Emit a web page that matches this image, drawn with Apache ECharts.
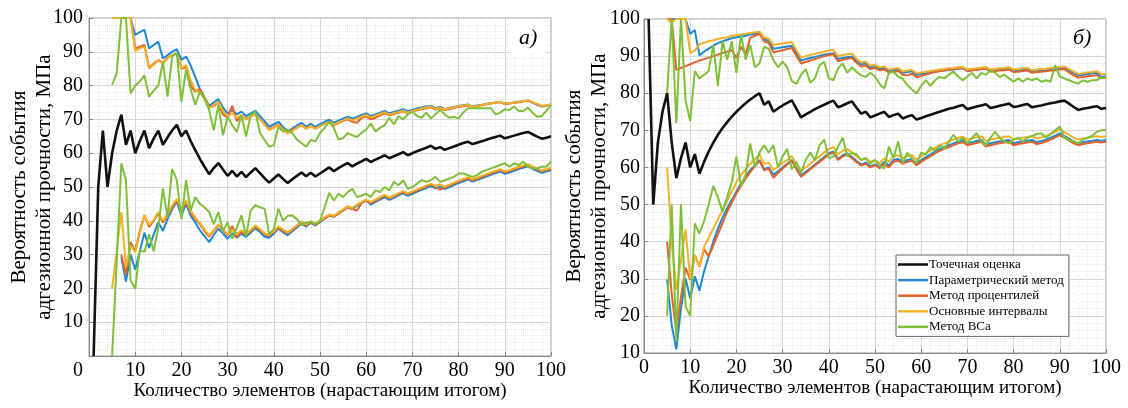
<!DOCTYPE html>
<html><head><meta charset="utf-8">
<script src="https://cdn.jsdelivr.net/npm/echarts@6/dist/echarts.min.js"></script>
<style>html,body{margin:0;padding:0;background:#fff}#c{width:1128px;height:408px}</style>
</head><body><div id="c"></div>
<script>
// x = 1..100 (number of elements); null = no value
const xTicks = [0,10,20,30,40,50,60,70,80,90,100];
const names = ['Точечная оценка','Параметрический метод','Метод процентилей','Основные интервалы','Метод BCa'];

// ---------- panel a) ----------
const A_point = [0,50,66.7,50,60,66.7,71.4,62.5,66.7,60,
63.6,66.7,61.5,64.3,66.7,62.5,64.7,66.7,68.4,65,
66.7,63.6,60.9,58.3,56,53.8,55.6,57.1,55.2,53.3,
54.8,53.1,54.5,52.9,54.3,55.6,54.1,52.6,51.3,52.5,
53.7,52.4,51.2,52.3,53.3,54.3,53.2,54.2,53.1,54,
54.9,55.8,54.7,55.6,56.4,57.1,56.1,56.9,57.6,58.3,
57.4,58.1,58.7,59.4,58.5,59.1,59.7,60.3,59.4,60,
60.6,61.1,61.6,62.2,61.3,61.8,61,61.5,62,62.5,
63,63.4,62.7,63.1,63.5,64,64.4,64.8,65.2,64.4,
64.8,65.2,65.6,66,66.3,65.6,64.9,64.3,64.6,65];

const A_paramUp = [null,null,null,null,100,100,100,100,100,95,
95.8,96.5,91,92,93,88,89,90,90.8,87.6,
88.6,86,82.5,79,76.5,74,75,76,73.5,71.8,
72.8,71.5,72.3,71,71.8,72.5,71,69.5,67.8,68.6,
69.3,67.8,66.4,67.3,68.2,69,67.9,68.7,67.8,68.6,
69.3,69.9,69,69.6,70.2,70.8,70.2,70.7,71.3,71.8,
71,71.5,72,72.5,71.8,72.2,72.6,73,72.4,72.8,
73.2,73.5,73.8,74,73.3,73.7,73.1,73.4,73.7,74,
74.2,74.4,73.8,74.1,74.3,74.6,74.8,75,75.2,74.6,
74.8,75,75.2,75.4,75.6,75,74.4,73.8,74.1,74.4];

const A_percUp = [null,null,null,null,100,100,100,100,100,91,
91.5,92,85.3,86.5,87.5,86.8,88.2,89,89.5,85,
85.5,80,78.2,79,76.5,73.5,74,75,71.5,70.5,
74,69.5,71,70.2,70.8,71.5,70,68.6,67,67.8,
68.5,67.2,66,66.8,67.5,68.3,67.3,68,67.3,68,
68.6,69.1,68.3,68.9,69.5,70,69.3,69,70.4,70.9,
70,70.5,71.2,71.8,71.2,71.6,72,72.4,71.8,72.3,
72.7,73,73.3,73.6,72.9,73.3,72.8,73.1,73.4,73.7,
73.9,74.1,73.6,73.9,74.2,74.5,74.7,74.9,75.1,74.5,
74.7,74.9,75.1,75.3,75.5,75,74.5,73.9,74.1,74.4];

const A_basicUp = [null,null,null,null,100,100,100,100,100,90.1,
91,91.6,85,86.2,87.4,86.5,88,89,89.6,85.1,
86.1,81.7,78.7,78,76.2,73.3,74.3,75.2,72.5,70.8,
71.8,70.5,71.3,70,70.8,71.5,70,68.5,66.8,67.6,
68.4,67,65.8,66.6,67.5,68.3,67.2,68,67.2,68,
68.7,69.3,68.5,69.1,69.7,70.3,69.7,70.2,70.8,71.3,
70.6,71.1,71.6,72.1,71.4,71.8,72.2,72.6,72,72.5,
72.9,73.2,73.5,73.8,73.1,73.5,73,73.3,73.6,73.9,
74.1,74.3,73.7,74,74.3,74.6,74.8,75,75.2,74.6,
74.8,75,75.2,75.4,75.6,75.1,74.6,74,74.2,74.5];

const A_bcaUp = [null,null,null,null,80.2,83.7,100,100,77.7,80,
81.2,83,76.7,78.5,80,87,76.7,88.6,89.6,75.2,
84.7,79,74.3,78.2,76,72.8,66.8,74.3,65.3,70.8,
68.3,66.3,71.3,64.9,71.3,72.3,66,63.9,61.9,62.4,
67.8,66.4,67,66,64,63,61.9,63.9,63.5,66,
67.5,69.3,67.5,64,64.5,66,65.3,64.8,66,67,
68.8,66.4,67.5,68.3,70.5,68.5,71,70,71.5,72.3,
71,70.5,72,70.3,71.5,72.8,71.5,70.5,70.8,70.3,
72,73.3,73.3,73.3,73.3,73.3,73.3,71.5,72,73,
72.8,73.8,72.5,72.5,73.5,72,70.8,71,72.5,74.3];

const A_paramLo = [null,null,null,null,null,null,29.3,22,30,25.5,
31,36.5,32,36,39.6,37,40.5,43.5,45.6,41.6,
45,41.5,39.5,37.2,35.5,33.7,35.8,37.7,36.2,34.7,
36.3,35,36.2,35.2,36.5,37.8,36.7,35.3,35,36.2,
37.7,36.6,35.7,36.9,38,39.2,38.3,39.4,38.6,39.6,
40.6,41.6,41.2,42.2,43.1,44,43.5,44.5,45.3,46,
44.8,45.6,46.3,47,46.2,46.8,47.5,48.1,47.4,48,
48.6,49.2,49.7,50.3,49.6,50.1,49.4,50,50.6,51.2,
51.7,52.2,51.6,52.1,52.6,53.1,53.6,54.1,54.6,53.9,
54.3,54.8,55.3,55.7,56.1,55.4,54.8,54.2,54.6,55];

const A_percLo = [null,null,null,null,null,null,30,24,33.7,31,
37,41.6,38.2,40,42,39.5,41.5,44,46,43,
45.5,42.5,40.5,39,37,35.3,37,38.8,37.2,35.7,
38.5,35,36.8,35.8,37,38.3,37.3,36,35.5,36.7,
38,37,36.2,37.3,38.4,39.5,38.6,39.6,38.8,39.8,
40.7,41.6,41.2,42.2,43.1,44,43.5,43,45.3,46,
45.2,46,46.7,47.4,46.6,47.2,47.9,48.5,47.8,48.4,
49,49.6,50.1,50.7,50,49.2,49.8,50.4,51,51.6,
52.1,52.6,52,52.5,53,53.5,54,54.5,55,54.3,
54.7,55.2,55.7,56.1,56.5,55.8,55.2,54.6,55,55.4];

const A_basicLo = [null,null,null,null,20,31,42.6,26.3,32.7,30.7,
36.5,41.6,38.7,40.3,42.5,40,42,44.5,46.5,43.5,
46,43,41,39.3,37.5,35.7,37.2,39,37.5,36,
37.3,36.2,37.2,36.2,37.3,38.6,37.6,36.3,35.8,37,
38.4,37.4,36.5,37.6,38.7,39.8,38.9,39.9,39.1,40.1,
41,41.9,41.5,42.5,43.4,44.3,43.8,44.8,45.6,46.3,
45.5,46.3,47,47.7,46.9,47.5,48.2,48.8,48.1,48.7,
49.3,49.9,50.4,51,50.3,50.8,50.1,50.7,51.3,51.9,
52.4,52.9,52.3,52.8,53.3,53.8,54.3,54.8,55.3,54.6,
55,55.5,56,56.4,56.8,56.1,55.5,54.9,55.3,55.7];

const A_bcaLo = [null,null,null,null,0,28,57,52,22.3,19.9,
31.3,30.8,36,31,38,49.5,41,55.4,52,40.5,
52,43,47,45,44,42.6,39,42.6,37,39.6,
34.7,38,41.6,35.5,43,44.6,44,43.6,36,37.6,
43.6,40,41.5,41.6,40.5,38.7,39.5,39.6,39,40,
44,48.3,46,48,47,48.5,49.5,47,47.5,48,
47,49,48.5,50,49,51.5,50.5,52,49.5,50,
51,52,51.5,52,53,51.5,52,52.5,53,54,
54,53.5,53,53.5,54.5,55,55.5,56,56.5,57,
56,57,56.5,57.5,56,55.5,55.5,56,56,57.5];

// ---------- panel б) ----------
const B_point = [100,50,66.7,75,80,66.7,57.1,62.5,66.7,60,
63.6,58.3,61.5,64.3,66.7,68.8,70.6,72.2,73.7,75,
76.2,77.3,78.3,79.2,80,76.9,77.8,75,75.9,76.7,
77.4,78.1,75.8,73.5,74.3,75,75.7,76.3,76.9,77.5,
78,76.2,76.7,77.3,77.8,76.1,74.5,75,73.5,74,
74.5,75,73.6,74.1,74.5,73.2,73.7,74.1,72.9,73.3,
73.8,74.2,74.6,75,75.4,75.8,76.1,76.5,76.8,75.7,
76.1,76.4,76.7,77,76,76.3,76.6,76.9,77.2,76.3,
76.5,76.8,77.1,76.2,76.5,76.7,77,77.3,77.5,77.8,
78,77.2,76.3,75.5,75.8,76,76.3,76.5,75.8,76];

const B_paramUp = [null,null,null,null,100,100,100,100,100,96,
97,90.2,91.2,92,92.8,93.5,94,94.4,94.8,95.1,
95.3,95.5,95.8,96,96.4,94.5,94.2,92,92.2,92.4,
92.6,92.8,90.8,88.8,89.2,89.5,89.8,90.1,90.4,90.6,
90.8,89.2,89.5,89.7,89.9,88.7,87.8,88,87,87.2,
86.6,86.8,86,86.2,86.4,85.5,85.7,85.9,85,85.2,
85.4,85.6,85.8,86,86.1,86.3,86.4,86.6,86.7,86,
86.2,86.3,86.5,86.6,86,86.2,86.3,86.4,86.6,86,
86.1,86.3,86.4,85.8,86,86.1,86.2,86.4,86.5,86.7,
86.8,86.1,85.4,84.8,85,85.2,85.3,85.5,84.4,84.6];

const B_percUp = [null,null,null,null,100,100,86.3,86.8,87.3,87.8,
88.3,88.8,89.2,89.6,90,90.4,90.8,91.2,91.6,89.5,
92.5,90.5,95,95.5,96,94,93.5,91,91.3,91.6,
91.9,92.2,90,88,88.4,88.8,89.2,89.6,90,90.3,
90.5,88.6,89,89.3,89.5,88.2,87.2,87.5,86.5,86.8,
86.2,86.4,85.6,85.8,86,85,84.8,85.3,84.3,84.6,
85,85.4,85.7,86,86.2,86.4,86.5,86.7,86.8,86,
86.2,86.3,86.5,86.6,85.8,86,86.1,86.2,86.4,85.7,
85.8,86,86.1,85.5,85.7,85.8,85.9,86.1,86.2,86.4,
86.5,85.6,84.8,84.2,84.4,84.6,84.7,84.9,84,84.2];

const B_basicUp = [null,null,null,null,100,99,100,100,100,90.8,
91.5,93.2,93.6,94,94.3,94.6,94.9,95.1,95.4,95.6,
95.8,96,96.2,96.4,96.6,95,94.7,93,93.2,93.4,
93.6,93.8,91.6,89.6,90,90.3,90.6,90.9,91.2,91.5,
91.7,90,90.3,90.5,90.7,89.3,88.3,88.5,87.4,87.6,
87,87.2,86.4,86.6,86.8,85.9,86.1,86.3,85.4,85.6,
85.8,86,86.2,86.4,86.5,86.7,86.8,87,87.1,86.4,
86.6,86.7,86.9,87,86.4,86.6,86.7,86.8,87,86.4,
86.5,86.7,86.8,86.2,86.4,86.5,86.6,86.8,86.9,87.1,
87.2,86.5,85.8,85.2,85.4,85.6,85.7,85.9,85.2,85.2];

const B_bcaUp = [null,null,null,null,80,100,71.9,100,78,72.5,
86,84,85,86,93,82,94,89,94,85.5,
95.9,89,93,87,88,92.5,92,89,87,88.5,
87,83.3,82.5,85,86.5,82.8,84,87.5,88.5,84,
83.5,86.7,88,85.5,87,85.8,84.8,84.4,85.5,84.5,
82.5,81.3,85.5,85.8,84.5,83.9,82.2,81,79.9,82,
83.5,82,83.5,84.4,84,85,85.8,84.5,83.5,84.5,
85.5,84,85.5,85,86.2,85.5,84.4,85,84,83.1,
84,83.1,84,83.5,84,83.1,83.5,83.1,87.6,84.5,
84,83.5,83,82.6,83.5,83.1,83.5,83.5,84.2,84.2];

const B_paramLo = [null,null,null,null,29.8,17.5,11,22,30.1,24.7,
30.7,26.8,32,36,40,43.5,46.5,49,51.2,53.5,
55.5,57.5,59.3,60.5,62,59.5,60,58,59,60,
61,62,59.8,57.8,58.8,59.8,60.8,61.8,62.8,63.8,
64.3,62.3,63.3,63.8,62.8,61.8,60.8,61.3,60.3,60.8,
60.2,61.5,60.5,62,62.3,61.5,62,62.3,61.1,62,
62.8,63.5,64.3,65,65.5,66,66.5,67,67.3,66.5,
66.8,67.1,67.4,66.1,66.5,66.8,67,67.2,67.4,66.5,
66.8,67,67.2,67.4,66.8,67.1,67.5,68,68.6,69.2,
68.5,67.8,67,66.5,66.8,67,67.2,67.4,67.2,67.4];

const B_percLo = [null,null,null,null,40,26,15.5,25,33,29.7,
36.4,33.3,38,36,39,42,45,48,50.5,53,
55,57,58.8,60.3,61.8,59.2,59.7,57.2,58.5,59.7,
60.8,61.8,59.5,57.5,58.5,59.5,60.5,61.5,62.5,63.5,
64,62,63,63.5,62.5,61.5,60.5,61,60,60.6,
59.8,61,60,61.5,61.8,61,61.5,61.8,60.6,61.5,
62.3,63,63.8,64.5,65,65.5,66,66.5,66.8,66,
66.3,66.6,66.9,65.6,66,66.3,66.5,66.7,66.9,66,
66.3,66.5,66.7,66.9,66.3,66.6,67,67.5,68.1,68.7,
68,67.3,66.5,66,66.3,66.5,66.7,66.9,66.7,66.9];

const B_basicLo = [null,null,null,null,60,40,27,35,43.3,30,
36.4,33.3,38.6,41,43.5,46,48.5,51,53.5,56,
58,59.5,61,62.3,63.5,61,61.3,59.3,60.2,61.2,
62,63,61,59.2,60,61,62,63,64,65,
65.5,63.5,64.5,65,64,63,62,62.5,61.5,62,
61.2,62.5,61.5,63,63.3,62.5,63,63.3,62.1,63,
63.8,64.5,65.3,66,66.5,67,67.5,68,68.3,67.5,
67.8,68.1,68.4,67.1,67.5,67.8,68,68.2,68.4,67.5,
67.8,68,68.2,68.4,67.8,68.1,68.5,69,69.6,70.2,
69.5,68.8,68,67.5,67.8,68,68.2,68.4,68.2,68.4];

const B_bcaLo = [null,null,null,null,20,50,13,50,22.5,20,
44.9,42.2,45.5,50,55,52,48,52,56,63,
55,58,66.5,60,64,66,64,66,60,63,
65,59.5,61.5,58.5,62,64,62,66,67.5,62.5,
63,65.6,68,63,64,63.5,62,62.5,61,62,
60.5,59.7,65.6,62.5,67,61.1,64,62.5,61.1,64,
63.5,65.5,64.5,66,65,67,68.8,67,68,66.5,
68,69.2,67,66,68,69.6,68,67,66.5,67.5,
68,67,68,68.5,69,69.2,68,69,70,71,
68,67.5,67,66.5,67.5,68,68.5,69.6,70,70.1];

// ---------- build ----------
const FONT = 'Liberation Serif';
const COLORS = ['#111111','#1e88d6','#e4622a','#f2b227','#7fc03a'];
function pts(arr){ const out=[]; arr.forEach((v,i)=>{ if(v!==null) out.push([i+1,v]); }); return out; }
function line(name, arr, gi, colorIdx, w){
  return {type:'line', name, xAxisIndex:gi, yAxisIndex:gi, data:pts(arr), symbol:'none',
    showSymbol:false, lineStyle:{color:COLORS[colorIdx], width:w}, itemStyle:{color:COLORS[colorIdx]},
    emphasis:{disabled:true}, animation:false};
}
function panelSeries(gi, P){
  return [
    line(names[1], P.paramUp, gi, 1, 2), line(names[1], P.paramLo, gi, 1, 2),
    line(names[2], P.percUp, gi, 2, 2), line(names[2], P.percLo, gi, 2, 2),
    line(names[3], P.basicUp, gi, 3, 2), line(names[3], P.basicLo, gi, 3, 2),
    line(names[4], P.bcaUp, gi, 4, 2), line(names[4], P.bcaLo, gi, 4, 2),
    line(names[0], P.point, gi, 0, 2.6)
  ];
}
const series = [].concat(
  panelSeries(0, {point:A_point, paramUp:A_paramUp, paramLo:A_paramLo, percUp:A_percUp, percLo:A_percLo, basicUp:A_basicUp, basicLo:A_basicLo, bcaUp:A_bcaUp, bcaLo:A_bcaLo}),
  panelSeries(1, {point:B_point, paramUp:B_paramUp, paramLo:B_paramLo, percUp:B_percUp, percLo:B_percLo, basicUp:B_basicUp, basicLo:B_basicLo, bcaUp:B_bcaUp, bcaLo:B_bcaLo})
);

const xName = 'Количество элементов (нарастающим итогом)';
const yName = 'Вероятность события\nадгезионной прочности, МПа';
function xAxis(gi){
  return {type:'value', gridIndex:gi, min:0, max:100, interval:10,
    axisLine:{show:true, lineStyle:{color:'#888', width:1}},
    axisTick:{show:true, inside:true, length:4, lineStyle:{color:'#888'}},
    minorTick:{show:true, splitNumber:5, length:0},
    axisLabel:{fontFamily:FONT, fontSize:20, color:'#000', margin:5,
      formatter: v => (gi===0 && v===0) ? '{z|0}' : String(v),
      rich:{z:{fontFamily:FONT, fontSize:20, color:'#000', padding:[0,22,0,0]}}},
    splitLine:{show:true, lineStyle:{color:'#d6d6d6', width:1}},
    minorSplitLine:{show:true, lineStyle:{color:'#e8e8e8', width:1, type:'dotted'}},
    name:xName, nameLocation:'middle', nameGap:26, nameMoveOverlap:false,
    nameTextStyle:{fontFamily:FONT, fontSize:19, color:'#000'}};
}
function yAxis(gi, min){
  return {type:'value', gridIndex:gi, min:min, max:100, interval:10,
    axisLine:{show:true, lineStyle:{color:'#888', width:1}},
    axisTick:{show:true, inside:true, length:4, lineStyle:{color:'#888'}},
    minorTick:{show:true, splitNumber:5, length:0},
    axisLabel:{fontFamily:FONT, fontSize:20, color:'#000', margin: gi===0 ? 6 : 4,
      formatter: v => (gi===0 && v===0) ? '' : String(v)},
    splitLine:{show:true, lineStyle:{color:'#d6d6d6', width:1}},
    minorSplitLine:{show:true, lineStyle:{color:'#e8e8e8', width:1, type:'dotted'}},
    name:yName, nameLocation:'middle', nameRotate:90, nameGap: gi===0 ? 32 : 32, nameMoveOverlap:false,
    nameTextStyle:{fontFamily:FONT, fontSize:21, color:'#000', lineHeight:25}};
}

const option = {
  animation:false,
  backgroundColor:'#fff',
  grid:[
    {left:89, top:18, width:462, height:338, show:true, borderColor:'#999', borderWidth:1, backgroundColor:'transparent'},
    {left:644, top:19, width:462, height:334, show:true, borderColor:'#999', borderWidth:1, backgroundColor:'transparent'}
  ],
  xAxis:[xAxis(0), xAxis(1)],
  yAxis:[yAxis(0,0), yAxis(1,10)],
  legend:{show:true, orient:'vertical', left:896, top:255, data:names,
    icon:'rect', itemWidth:30, itemHeight:2.5, itemGap:2.6, padding:[3,5,3,2],
    backgroundColor:'#fff', borderColor:'#666', borderWidth:1,
    textStyle:{fontFamily:FONT, fontSize:13, color:'#000', padding:[0,0,0,-4], lineHeight:13},
    selectedMode:false},
  graphic:[
    {type:'text', left:511, top:24, z:100, style:{text:'а)', font:'italic 22px "Liberation Serif"', fill:'#000', backgroundColor:'#fff', padding:[3,8,5,8]}},
    {type:'text', left:1065, top:24, z:100, style:{text:'б)', font:'italic 22px "Liberation Serif"', fill:'#000', backgroundColor:'#fff', padding:[3,8,5,8]}}
  ],
  series: series
};
const chart = echarts.init(document.getElementById('c'), null, {renderer:'canvas'});
chart.setOption(option);
</script>
</body></html>
